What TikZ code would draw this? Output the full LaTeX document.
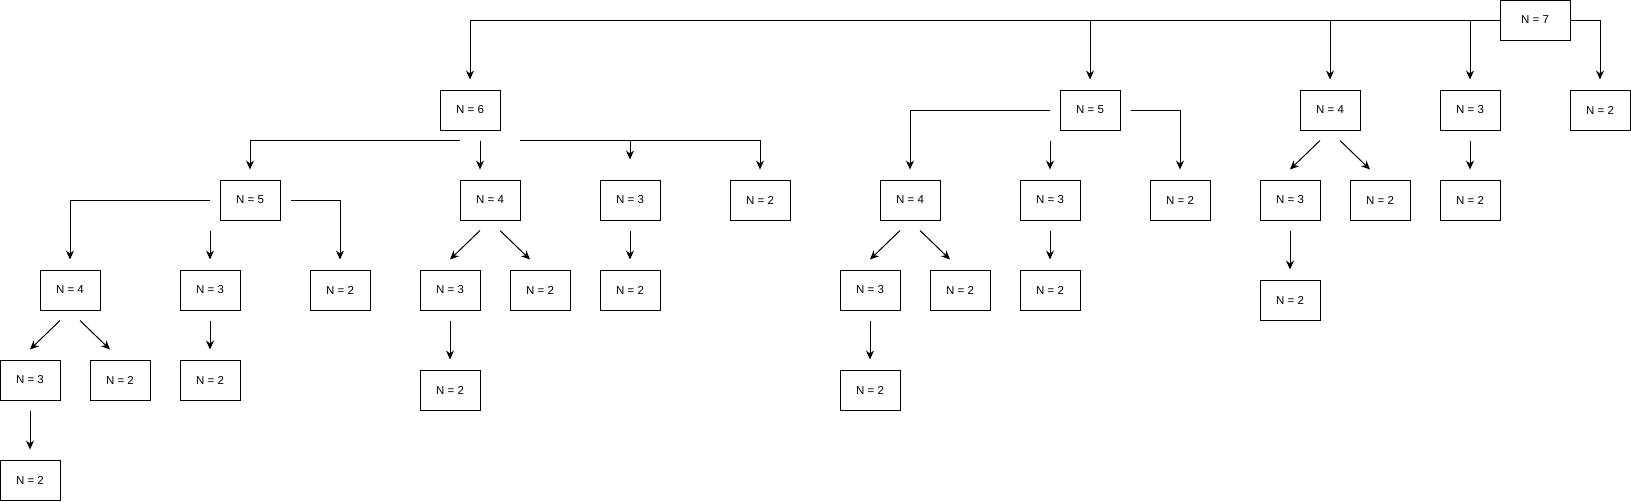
\documentclass[tikz,border=0pt]{standalone}
\usepackage{fontspec}
\setsansfont{Liberation Sans}
\usepackage{tikz}
\usetikzlibrary{arrows.meta}
\tikzset{
  every picture/.style={font=\sffamily, >={Stealth[length=9pt, width=8pt, inset=3pt]}},
  caja/.style={draw=black, line width=1pt, minimum width=60pt, minimum height=40pt,
               inner sep=0pt, font=\sffamily\fontsize{11.5}{13}\selectfont},
  raiz/.style={caja, minimum width=70pt},
  flecha/.style={->, line width=1pt},
  flechac/.style={flecha, shorten >=10pt},
}

\begin{document}
\begin{tikzpicture}[x=1pt, y=-1pt]
  \useasboundingbox (0,0) rectangle (1631,501);
  % nivel 0 y 1
  \node[raiz] (n7) at (1535,20) {N = 7};
  \node[caja] (a6) at (470,110) {N = 6};
  \node[caja] (a5) at (1090,110) {N = 5};
  \node[caja] (a4) at (1330,110) {N = 4};
  \node[caja] (a3) at (1470,110) {N = 3};
  \node[caja] (a2) at (1600,110) {N = 2};
  % nivel 2
  \node[caja] (b5) at (250,200) {N = 5};
  \node[caja] (b4) at (490,200) {N = 4};
  \node[caja] (b3) at (630,200) {N = 3};
  \node[caja] (b2) at (760,200) {N = 2};
  \node[caja] (c4) at (910,200) {N = 4};
  \node[caja] (c3) at (1050,200) {N = 3};
  \node[caja] (c2) at (1180,200) {N = 2};
  \node[caja] (d3) at (1290,200) {N = 3};
  \node[caja] (d2) at (1380,200) {N = 2};
  \node[caja] (e2) at (1470,200) {N = 2};
  % nivel 3
  \node[caja] (f4) at (70,290) {N = 4};
  \node[caja] (f3) at (210,290) {N = 3};
  \node[caja] (f2) at (340,290) {N = 2};
  \node[caja] (g3) at (450,290) {N = 3};
  \node[caja] (g2) at (540,290) {N = 2};
  \node[caja] (h2) at (630,290) {N = 2};
  \node[caja] (i3) at (870,290) {N = 3};
  \node[caja] (i2) at (960,290) {N = 2};
  \node[caja] (j2) at (1050,290) {N = 2};
  \node[caja] (k2) at (1290,300) {N = 2};
  % nivel 4 y 5
  \node[caja] (l3) at (30,380) {N = 3};
  \node[caja] (l2) at (120,380) {N = 2};
  \node[caja] (m2) at (210,380) {N = 2};
  \node[caja] (n2) at (450,390) {N = 2};
  \node[caja] (o2) at (870,390) {N = 2};
  \node[caja] (p2) at (30,480) {N = 2};

  \draw[flechac] (n7.west) -| (a6.north);
  \draw[flechac] (n7.west) -| (a5.north);
  \draw[flechac] (n7.west) -| (a4.north);
  \draw[flechac] (n7.west) -| (a3.north);
  \draw[flechac] (n7.east) -| (a2.north);

  \draw[flechac] ([xshift=-10pt,yshift=-10pt]a6.south) -| (b5.north);
  \draw[flecha] ([xshift=10pt,yshift=-10pt]a6.south) -- ([xshift=-10pt,yshift=10pt]b4.north);
  \draw[flechac] ([xshift=50pt,yshift=-10pt]a6.south) -| (b2.north);
  \draw[flecha] ([yshift=-10pt]a6.south -| b3.north) -- ([yshift=20pt]b3.north);

  \draw[flechac] ([xshift=-10pt]a5.west) -| (c4.north);
  \draw[flecha] ([yshift=-10pt]a5.south -| c3.north) -- ([yshift=10pt]c3.north);
  \draw[flechac] ([xshift=10pt]a5.east) -| (c2.north);

  \draw[flecha] ([xshift=-10pt,yshift=-10pt]a4.south) -- ([yshift=10pt]d3.north);
  \draw[flecha] ([xshift=10pt,yshift=-10pt]a4.south) -- ([xshift=-10pt,yshift=10pt]d2.north);
  \draw[flecha] ([yshift=-10pt]a3.south) -- ([yshift=10pt]e2.north);

  \draw[flechac] ([xshift=-10pt]b5.west) -| (f4.north);
  \draw[flecha] ([yshift=-10pt]b5.south -| f3.north) -- ([yshift=10pt]f3.north);
  \draw[flechac] ([xshift=10pt]b5.east) -| (f2.north);

  \draw[flecha] ([xshift=-10pt,yshift=-10pt]b4.south) -- ([yshift=10pt]g3.north);
  \draw[flecha] ([xshift=10pt,yshift=-10pt]b4.south) -- ([xshift=-10pt,yshift=10pt]g2.north);
  \draw[flecha] ([yshift=-10pt]b3.south) -- ([yshift=10pt]h2.north);

  \draw[flecha] ([xshift=-10pt,yshift=-10pt]c4.south) -- ([yshift=10pt]i3.north);
  \draw[flecha] ([xshift=10pt,yshift=-10pt]c4.south) -- ([xshift=-10pt,yshift=10pt]i2.north);
  \draw[flecha] ([yshift=-10pt]c3.south) -- ([yshift=10pt]j2.north);
  \draw[flecha] ([yshift=-10pt]d3.south) -- ([yshift=10pt]k2.north);

  \draw[flecha] ([xshift=-10pt,yshift=-10pt]f4.south) -- ([yshift=10pt]l3.north);
  \draw[flecha] ([xshift=10pt,yshift=-10pt]f4.south) -- ([xshift=-10pt,yshift=10pt]l2.north);
  \draw[flecha] ([yshift=-10pt]f3.south) -- ([yshift=10pt]m2.north);
  \draw[flecha] ([yshift=-10pt]g3.south) -- ([yshift=10pt]n2.north);
  \draw[flecha] ([yshift=-10pt]i3.south) -- ([yshift=10pt]o2.north);
  \draw[flecha] ([yshift=-10pt]l3.south) -- ([yshift=10pt]p2.north);
\end{tikzpicture}
\end{document}
